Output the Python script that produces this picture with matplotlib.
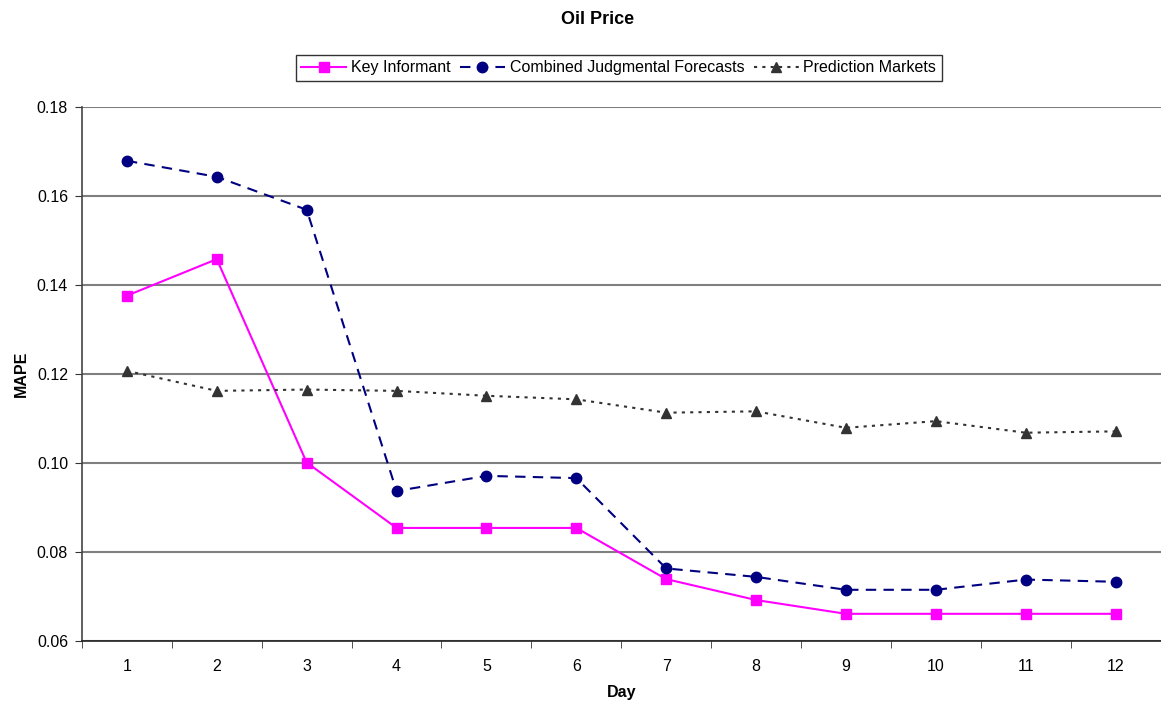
import numpy as np
import matplotlib.pyplot as plt

plt.rcParams['font.family'] = ['Liberation Sans', 'DejaVu Sans']

days = np.arange(1, 13)
key_informant = [0.1376, 0.1458, 0.1001, 0.0854, 0.0854, 0.0854,
                 0.0739, 0.0692, 0.0661, 0.0661, 0.0661, 0.0661]
combined = [0.1679, 0.1643, 0.1569, 0.0937, 0.0971, 0.0966,
            0.0763, 0.0744, 0.0715, 0.0715, 0.0738, 0.0733]
prediction = [0.1207, 0.1162, 0.1165, 0.1162, 0.1151, 0.1143,
              0.1113, 0.1116, 0.1079, 0.1094, 0.1068, 0.1071]

fig = plt.figure(figsize=(11.61, 7.07), dpi=100)
ax = fig.add_axes([0.0706, 0.0934, 0.929, 0.7553])

ax.plot(days, key_informant, color='#ff00ff', lw=1.5, marker='s', ms=6.5,
        label='Key Informant')
ax.plot(days, combined, color='#000080', lw=1.5, ls=(0, (5, 3.5)), marker='o', ms=7.5,
        label='Combined Judgmental Forecasts')
ax.plot(days, prediction, color='#333333', lw=1.5, ls=(0, (1.5, 2.5)), marker='^', ms=7.5,
        label='Prediction Markets')

ax.set_xlim(0.5, 12.5)
ax.set_ylim(0.06, 0.18)
ax.set_yticks(np.arange(0.06, 0.181, 0.02))
ax.set_yticklabels(['%.2f' % v for v in np.arange(0.06, 0.181, 0.02)])
ax.yaxis.grid(True, color='#7f7f7f', lw=1.5)
ax.set_axisbelow(True)

ax.set_xticks(days)
ax.set_xticklabels([str(d) for d in days])
ax.set_xticks(np.arange(0.5, 12.6, 1), minor=True)
ax.tick_params(axis='x', which='major', length=0, pad=13, labelsize=11.5)
ax.tick_params(axis='x', which='minor', length=5, direction='out', color='#333333')
ax.tick_params(axis='y', length=5, direction='out', color='#333333', labelsize=11.5, pad=5)

for s in ['top', 'right']:
    ax.spines[s].set_visible(False)
ax.spines['left'].set_color('#444444')
ax.spines['bottom'].set_color('#222222')
ax.spines['left'].set_linewidth(1.2)
ax.spines['bottom'].set_linewidth(1.2)

ax.set_xlabel('Day', fontweight='bold', fontsize=11.5, labelpad=8)
ax.set_ylabel('MAPE', fontweight='bold', fontsize=11.5, labelpad=6)

fig.suptitle('Oil Price', fontweight='bold', fontsize=13, x=0.515, y=0.984)
leg = fig.legend(loc='center', bbox_to_anchor=(0.533, 0.904), ncol=3, frameon=True,
                 fancybox=False, edgecolor='black', fontsize=11.5, handlelength=2.8,
                 handletextpad=0.3, columnspacing=0.6, borderpad=0.35)
leg.get_frame().set_linewidth(1.0)

fig.savefig('out.png', dpi=100)
